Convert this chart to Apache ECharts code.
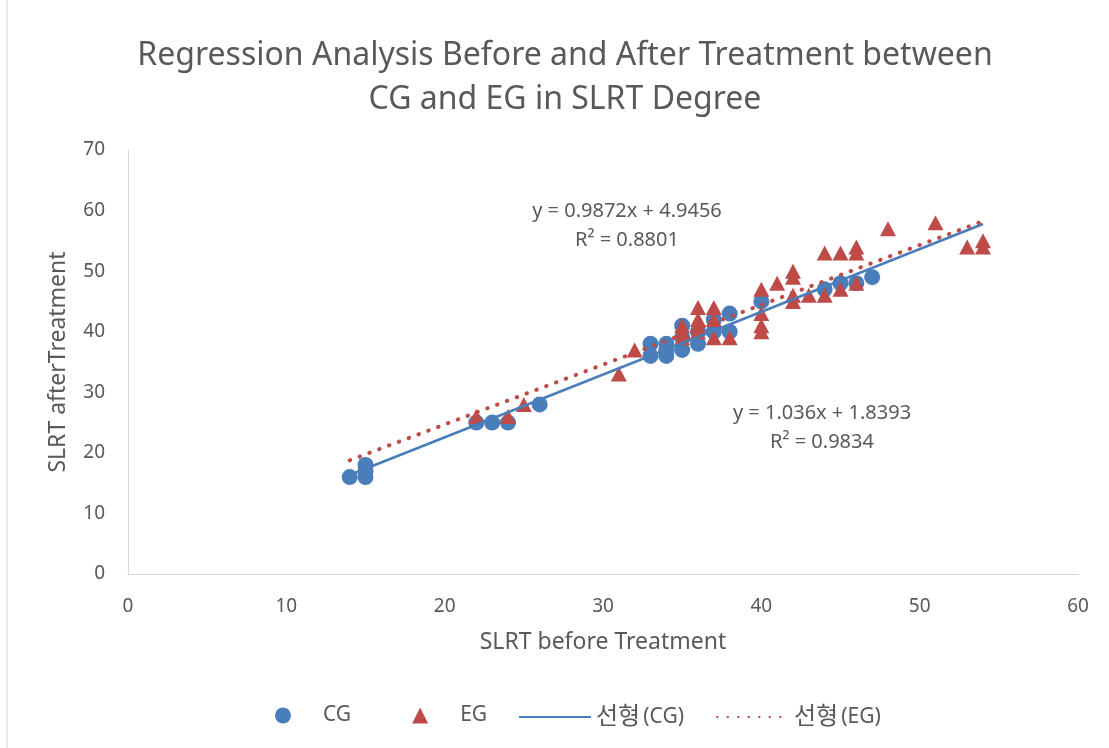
<!DOCTYPE html>
<html>
<head>
<meta charset="utf-8">
<script src="https://cdn.jsdelivr.net/npm/echarts@6/dist/echarts.min.js"></script>
<style>
  html, body { margin: 0; padding: 0; background: #fff; }
  #chart { width: 1109px; height: 748px; }
</style>
</head>
<body>
<div id="chart"></div>
<script>
// CG: control group, [before, after]
var cgPoints = [
  [14, 16], [15, 16], [15, 17], [15, 18],
  [22, 25], [23, 25], [24, 25], [26, 28],
  [33, 36], [33, 38], [34, 36], [34, 37], [34, 38],
  [35, 37], [35, 39], [35, 41], [36, 38], [36, 40],
  [37, 40], [37, 42], [38, 40], [38, 43],
  [40, 45], [44, 47], [45, 48], [46, 48], [47, 49]
];
// EG: experimental group
var egPoints = [
  [22, 26], [24, 26], [25, 28], [31, 33], [32, 37],
  [35, 41], [35, 40], [35, 39],
  [36, 44], [36, 42], [36, 41], [36, 40],
  [37, 44], [37, 42], [37, 39], [38, 39],
  [40, 47], [40, 43], [40, 41], [40, 40], [41, 48],
  [42, 50], [42, 49], [42, 46], [42, 45], [43, 46],
  [44, 53], [44, 46], [45, 53], [45, 47],
  [46, 54], [46, 53], [46, 48], [48, 57], [51, 58],
  [53, 54], [54, 55], [54, 54]
];
// trendlines as printed on the chart
var cgTrend = { slope: 1.036, icept: 1.8393, r2: '0.9834' };
var egTrend = { slope: 0.9872, icept: 4.9456, r2: '0.8801' };
var trendRange = [14, 54];
var xTicks = [0, 60, 10];
var yTicks = [0, 70, 10];

var FONT = '"Noto Sans", "Noto Sans CJK KR", sans-serif';
var GREY = '#595959';
var BLUE = '#4a7ebb';
var RED = '#be4b48';

function trendLine(t) {
  return trendRange.map(function (x) { return [x, t.slope * x + t.icept]; });
}

var chart = echarts.init(document.getElementById('chart'));
chart.setOption({
  animation: false,
  textStyle: { fontFamily: FONT },
  title: {
    text: 'Regression Analysis Before and After Treatment between\nCG and EG in SLRT Degree',
    left: 560, top: 29, textAlign: 'center',
    textStyle: { fontFamily: FONT, fontSize: 32, fontWeight: 'normal', color: GREY, lineHeight: 44 }
  },
  grid: { left: 128, right: 31, top: 150, bottom: 174 },
  xAxis: {
    type: 'value', min: xTicks[0], max: xTicks[1], interval: xTicks[2],
    name: 'SLRT before Treatment', nameLocation: 'middle', nameGap: 57,
    nameTextStyle: { fontSize: 23, color: GREY, fontFamily: FONT },
    axisLine: { show: true, lineStyle: { color: '#d9d9d9', width: 1 } },
    axisTick: { show: false },
    splitLine: { show: false },
    axisLabel: { fontSize: 19, color: GREY, margin: 23, fontFamily: FONT }
  },
  yAxis: {
    type: 'value', min: yTicks[0], max: yTicks[1], interval: yTicks[2],
    name: 'SLRT afterTreatment', nameLocation: 'middle', nameGap: 58,
    nameTextStyle: { fontSize: 23, color: GREY, fontFamily: FONT },
    axisLine: { show: true, lineStyle: { color: '#d9d9d9', width: 1 } },
    axisTick: { show: false },
    splitLine: { show: false },
    axisLabel: { fontSize: 19, color: GREY, margin: 23, fontFamily: FONT }
  },
  legend: [
    {
      data: ['CG', 'EG'],
      left: 270, top: 700, itemWidth: 16, itemHeight: 16, itemGap: 61,
      textStyle: { fontSize: 21, color: GREY, fontFamily: FONT, padding: [0, 0, 0, 27] }
    },
    {
      data: ['선형 (CG)', '선형 (EG)'],
      left: 513, top: 700, itemWidth: 72, itemHeight: 16, itemGap: 32,
      itemStyle: { opacity: 0 },
      formatter: function (name) {
        var parts = name.split(' ');
        return '{k|' + parts[0] + '} {t|' + parts[1] + '}';
      },
      textStyle: {
        color: GREY, fontFamily: FONT, padding: [0, 0, 0, 0],
        rich: {
          k: { fontSize: 24, color: GREY, fontFamily: FONT },
          t: { fontSize: 21, color: GREY, fontFamily: FONT }
        }
      }
    }
  ],
  graphic: [
    { type: 'rect', shape: { x: 7, y: -10, width: 1200, height: 800 },
      style: { fill: 'none', stroke: '#d9d9d9', lineWidth: 1 }, silent: true },
    { type: 'text', style: {
        text: 'y = ' + egTrend.slope + 'x + ' + egTrend.icept + '\nR² = ' + egTrend.r2,
        x: 627, y: 197, align: 'center', font: '20px ' + FONT, fill: GREY, lineHeight: 29 } },
    { type: 'text', style: {
        text: 'y = ' + cgTrend.slope + 'x + ' + cgTrend.icept + '\nR² = ' + cgTrend.r2,
        x: 822, y: 399, align: 'center', font: '20px ' + FONT, fill: GREY, lineHeight: 29 } }
  ],
  series: [
    {
      name: 'CG', type: 'scatter', data: cgPoints, symbol: 'circle', symbolSize: 16,
      itemStyle: { color: BLUE, opacity: 1 }, z: 3
    },
    {
      name: 'EG', type: 'scatter', data: egPoints, symbol: 'triangle', symbolSize: [16, 15],
      itemStyle: { color: RED, opacity: 1 }, z: 4
    },
    {
      name: '선형 (CG)', type: 'line', data: trendLine(cgTrend), symbol: 'none',
      lineStyle: { color: BLUE, width: 2.5 }, itemStyle: { color: BLUE }, z: 5
    },
    {
      name: '선형 (EG)', type: 'line', data: trendLine(egTrend), symbol: 'none',
      lineStyle: { color: RED, width: 4, type: [0.5, 10], cap: 'round' },
      itemStyle: { color: RED }, z: 6
    }
  ]
});
</script>
</body>
</html>
